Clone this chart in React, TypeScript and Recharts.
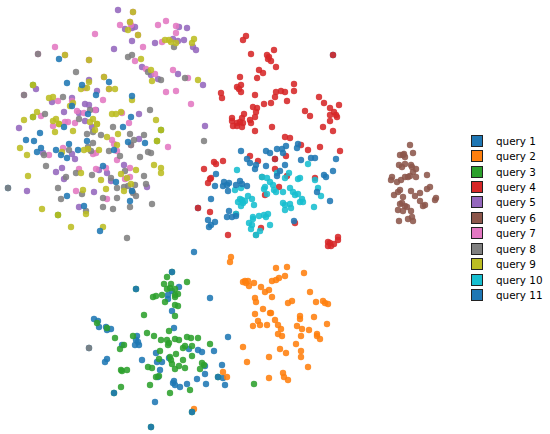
import React from "react";
import { ScatterChart, Scatter, XAxis, YAxis } from "recharts";

type P = [number, number];
const names = ["query 1","query 2","query 3","query 4","query 5","query 6","query 7","query 8","query 9","query 10","query 11"];
const colors = ["#1f77b4","#ff7f0e","#2ca02c","#d62728","#9467bd","#8c564b","#e377c2","#7f7f7f","#bcbd22","#17becf","#1f77b4"];

const q1: P[] = [[179,287],[172,291],[168,295],[168,299],[210,298],[172,311],[94,319],[98,321],[99,327],[106,327],[107,330],[111,329],[174,328],[137,336],[136,340],[138,342],[135,345],[139,345],[122,345],[228,337],[189,349],[198,350],[202,352],[214,351],[156,353],[107,359],[105,362],[142,360],[157,362],[162,362],[169,358],[160,370],[222,365],[205,366],[205,374],[158,377],[197,379],[223,378],[174,381],[173,383],[175,385],[180,387],[187,384],[206,384],[225,385],[155,402],[89,348],[8,188],[194,252],[333,55],[198,208],[275,159]];
const q2: P[] = [[231,257],[230,262],[276,268],[287,267],[304,273],[285,276],[279,278],[276,280],[272,281],[243,282],[245,281],[248,281],[246,283],[249,286],[254,283],[261,287],[265,292],[269,290],[272,297],[255,298],[256,302],[310,292],[292,301],[288,303],[316,302],[323,301],[325,303],[328,304],[263,309],[255,314],[270,313],[271,313],[300,316],[300,319],[314,317],[275,320],[258,321],[260,325],[253,326],[267,325],[278,325],[281,329],[297,326],[302,329],[309,330],[327,324],[278,334],[282,336],[301,336],[317,334],[317,336],[320,339],[296,344],[243,347],[280,349],[301,351],[286,353],[269,357],[301,357],[247,362],[308,367],[223,372],[227,377],[269,378],[283,373],[284,377],[288,380],[194,409]];
const q3: P[] = [[167,277],[164,284],[171,284],[187,282],[167,289],[170,288],[175,289],[162,295],[153,297],[156,296],[178,294],[175,295],[175,297],[165,302],[175,305],[178,306],[144,315],[175,316],[169,331],[147,333],[154,336],[115,338],[133,336],[161,340],[167,340],[175,339],[179,340],[187,337],[191,338],[198,338],[210,344],[169,343],[168,345],[124,345],[120,349],[160,351],[183,348],[185,346],[192,346],[176,354],[192,356],[170,357],[159,359],[183,360],[171,360],[172,364],[202,363],[204,365],[179,366],[185,368],[175,369],[200,369],[148,367],[152,368],[121,370],[122,371],[127,370],[159,376],[156,377],[150,385],[121,387],[190,390],[170,393],[107,328],[97,323],[254,384],[172,272],[136,289],[218,377],[192,412],[114,393],[151,427],[33,85],[33,117],[161,130],[157,141],[58,215]];
const q4: P[] = [[246,36],[243,40],[251,54],[274,50],[267,55],[269,57],[268,59],[271,61],[276,67],[259,70],[263,73],[257,78],[240,77],[241,85],[237,87],[239,89],[241,92],[221,93],[222,98],[255,95],[294,84],[294,91],[276,92],[281,91],[285,92],[275,97],[271,103],[264,104],[287,101],[253,107],[257,108],[256,112],[255,117],[244,114],[232,118],[232,121],[242,118],[240,122],[237,123],[233,126],[237,126],[242,127],[243,123],[250,120],[251,123],[255,131],[272,127],[319,97],[324,103],[339,105],[330,108],[305,111],[310,116],[330,115],[334,112],[336,115],[337,117],[330,121],[323,127],[333,131],[285,137],[290,138],[333,55],[301,145],[308,150],[320,147],[340,151],[250,156],[258,161],[286,156],[223,161],[214,162],[216,164],[204,169],[275,169],[287,176],[315,178],[211,178],[210,179],[208,183],[279,187],[265,195],[210,212],[261,228],[295,223],[228,235],[338,237],[338,240],[328,242],[330,243],[328,246],[331,246],[334,244],[198,208],[275,159]];
const q5: P[] = [[118,10],[135,27],[125,29],[132,28],[132,41],[114,49],[179,27],[187,28],[155,43],[173,39],[178,41],[184,40],[193,47],[196,50],[142,67],[151,75],[158,79],[178,74],[203,85],[36,89],[97,91],[52,102],[72,98],[85,104],[89,105],[96,110],[64,112],[139,114],[79,113],[85,121],[205,126],[89,80],[19,128],[92,127],[139,139],[43,153],[72,154],[75,159],[62,168],[56,172],[64,179],[124,165],[99,170],[107,173],[111,181],[147,187],[27,191],[94,192],[79,207]];
const q6: P[] = [[410,145],[413,153],[400,155],[403,155],[404,154],[405,157],[399,165],[402,167],[405,164],[411,165],[412,167],[416,169],[413,172],[410,176],[405,177],[408,177],[416,177],[427,175],[392,177],[391,180],[401,180],[397,182],[430,187],[427,189],[400,190],[398,192],[394,195],[411,191],[420,193],[415,196],[403,197],[436,198],[435,200],[420,201],[402,203],[400,204],[405,206],[425,205],[423,206],[398,210],[403,211],[407,207],[411,211],[412,217],[408,219],[413,221],[399,221]];
const q7: P[] = [[120,25],[131,25],[158,25],[166,21],[176,26],[176,33],[95,34],[55,47],[143,47],[162,42],[135,61],[146,69],[155,74],[173,70],[188,78],[166,92],[176,91],[191,104],[58,101],[103,100],[72,101],[41,116],[77,111],[84,113],[95,110],[122,113],[65,122],[68,122],[75,123],[129,123],[85,88],[24,95],[53,126],[112,140],[114,144],[117,151],[63,148],[49,155],[96,153],[93,154],[117,160],[168,147],[79,169],[96,169],[106,168],[130,168],[130,177],[125,179],[76,191],[107,199],[131,145],[38,54],[65,55],[133,12],[130,22],[138,35],[89,60],[104,77],[109,89]];
const q8: P[] = [[128,57],[132,55],[76,72],[148,72],[161,80],[185,78],[174,47],[63,97],[24,95],[90,110],[45,114],[150,110],[79,119],[113,127],[87,134],[93,132],[101,135],[130,134],[144,135],[134,140],[93,143],[88,147],[69,150],[91,151],[109,151],[120,156],[140,157],[148,152],[151,153],[44,155],[46,166],[76,173],[92,175],[125,171],[144,176],[111,178],[128,186],[135,185],[146,184],[124,187],[117,188],[132,191],[133,193],[136,196],[82,194],[103,198],[117,198],[61,199],[58,188],[66,177],[103,207],[86,211],[113,209],[130,207],[152,204],[127,238],[8,188],[204,141],[131,145],[38,54],[256,235],[236,214],[262,177],[89,348]];
const q9: P[] = [[133,12],[130,22],[128,30],[138,35],[65,55],[89,60],[141,59],[151,70],[152,81],[104,77],[89,82],[81,89],[87,88],[109,89],[115,89],[33,85],[49,98],[53,97],[73,103],[70,106],[132,100],[37,112],[24,120],[33,117],[56,119],[53,121],[59,124],[90,122],[93,119],[97,124],[112,114],[116,114],[121,112],[156,120],[165,40],[169,40],[171,42],[176,43],[194,39],[192,43],[198,80],[55,132],[59,124],[73,131],[95,130],[97,124],[107,137],[118,134],[161,130],[157,141],[20,148],[27,155],[62,152],[84,150],[88,149],[99,150],[117,145],[154,165],[161,168],[161,173],[136,170],[121,174],[81,173],[28,176],[101,180],[127,178],[131,184],[106,189],[124,191],[83,190],[42,209],[58,215],[86,214],[71,227],[103,227]];
const q10: P[] = [[237,170],[289,173],[308,164],[285,178],[298,179],[300,178],[315,180],[267,178],[270,182],[265,187],[264,189],[273,185],[274,190],[276,192],[267,194],[283,192],[290,188],[293,192],[295,195],[298,194],[318,188],[321,196],[302,199],[300,202],[303,202],[283,203],[290,204],[285,205],[291,208],[285,210],[314,207],[235,190],[241,188],[248,196],[252,199],[254,205],[240,199],[238,202],[242,200],[243,203],[241,206],[245,201],[253,217],[253,219],[259,216],[264,215],[268,214],[266,217],[270,225],[249,223],[252,225],[251,229],[260,231],[256,235],[236,214],[262,177],[277,173]];
const q11: P[] = [[59,59],[67,83],[82,85],[109,82],[96,95],[132,96],[72,106],[88,114],[131,117],[26,140],[34,141],[40,133],[64,127],[123,127],[41,148],[37,152],[56,150],[61,155],[67,158],[69,144],[78,150],[87,141],[114,150],[128,142],[145,143],[103,166],[116,182],[67,196],[130,201],[84,206],[100,231],[132,191],[241,151],[266,151],[270,153],[277,149],[286,146],[282,149],[283,153],[298,144],[297,148],[301,160],[311,158],[315,158],[336,159],[247,159],[250,163],[256,165],[255,169],[266,166],[285,165],[280,171],[277,176],[216,174],[333,171],[324,175],[326,177],[215,186],[224,182],[229,183],[223,186],[227,185],[228,191],[236,185],[240,181],[242,184],[247,186],[317,192],[330,201],[211,199],[229,211],[227,217],[232,217],[236,216],[294,221],[208,220],[215,222],[211,225],[209,227],[172,272],[136,289],[218,377],[114,393],[192,412],[151,427]];

const series: P[][] = [q1, q2, q3, q4, q5, q6, q7, q8, q9, q10, q11];

const Dot = (p: any) => <circle cx={p.cx} cy={p.cy} r={3.2} fill={p.fill} fillOpacity={0.88} />;

export default function App() {
  return (
    <div style={{ position: "absolute", left: 0, top: 0, width: 550, height: 434, background: "#fff" }}>
      <ScatterChart width={550} height={434} margin={{ top: 0, right: 0, bottom: 0, left: 0 }}>
        <XAxis type="number" dataKey="x" domain={[0, 550]} hide />
        <YAxis type="number" dataKey="y" domain={[0, 434]} reversed hide />
        {series.map((pts, i) => (
          <Scatter
            key={names[i]}
            name={names[i]}
            data={pts.map(([x, y]) => ({ x, y }))}
            fill={colors[i]}
            shape={Dot}
            isAnimationActive={false}
          />
        ))}
      </ScatterChart>
      {names.map((n, i) => (
        <div key={n} style={{ position: "absolute", left: 471, top: 134.7 + i * 15.43, height: 12, display: "flex", alignItems: "center" }}>
          <span style={{ display: "block", boxSizing: "border-box", width: 12, height: 12, background: colors[i], border: "1.5px solid #222" }} />
          <span style={{ marginLeft: 13, fontFamily: "'DejaVu Sans'", fontSize: 10.4, color: "#000", lineHeight: "12px", whiteSpace: "nowrap" }}>{n}</span>
        </div>
      ))}
    </div>
  );
}
